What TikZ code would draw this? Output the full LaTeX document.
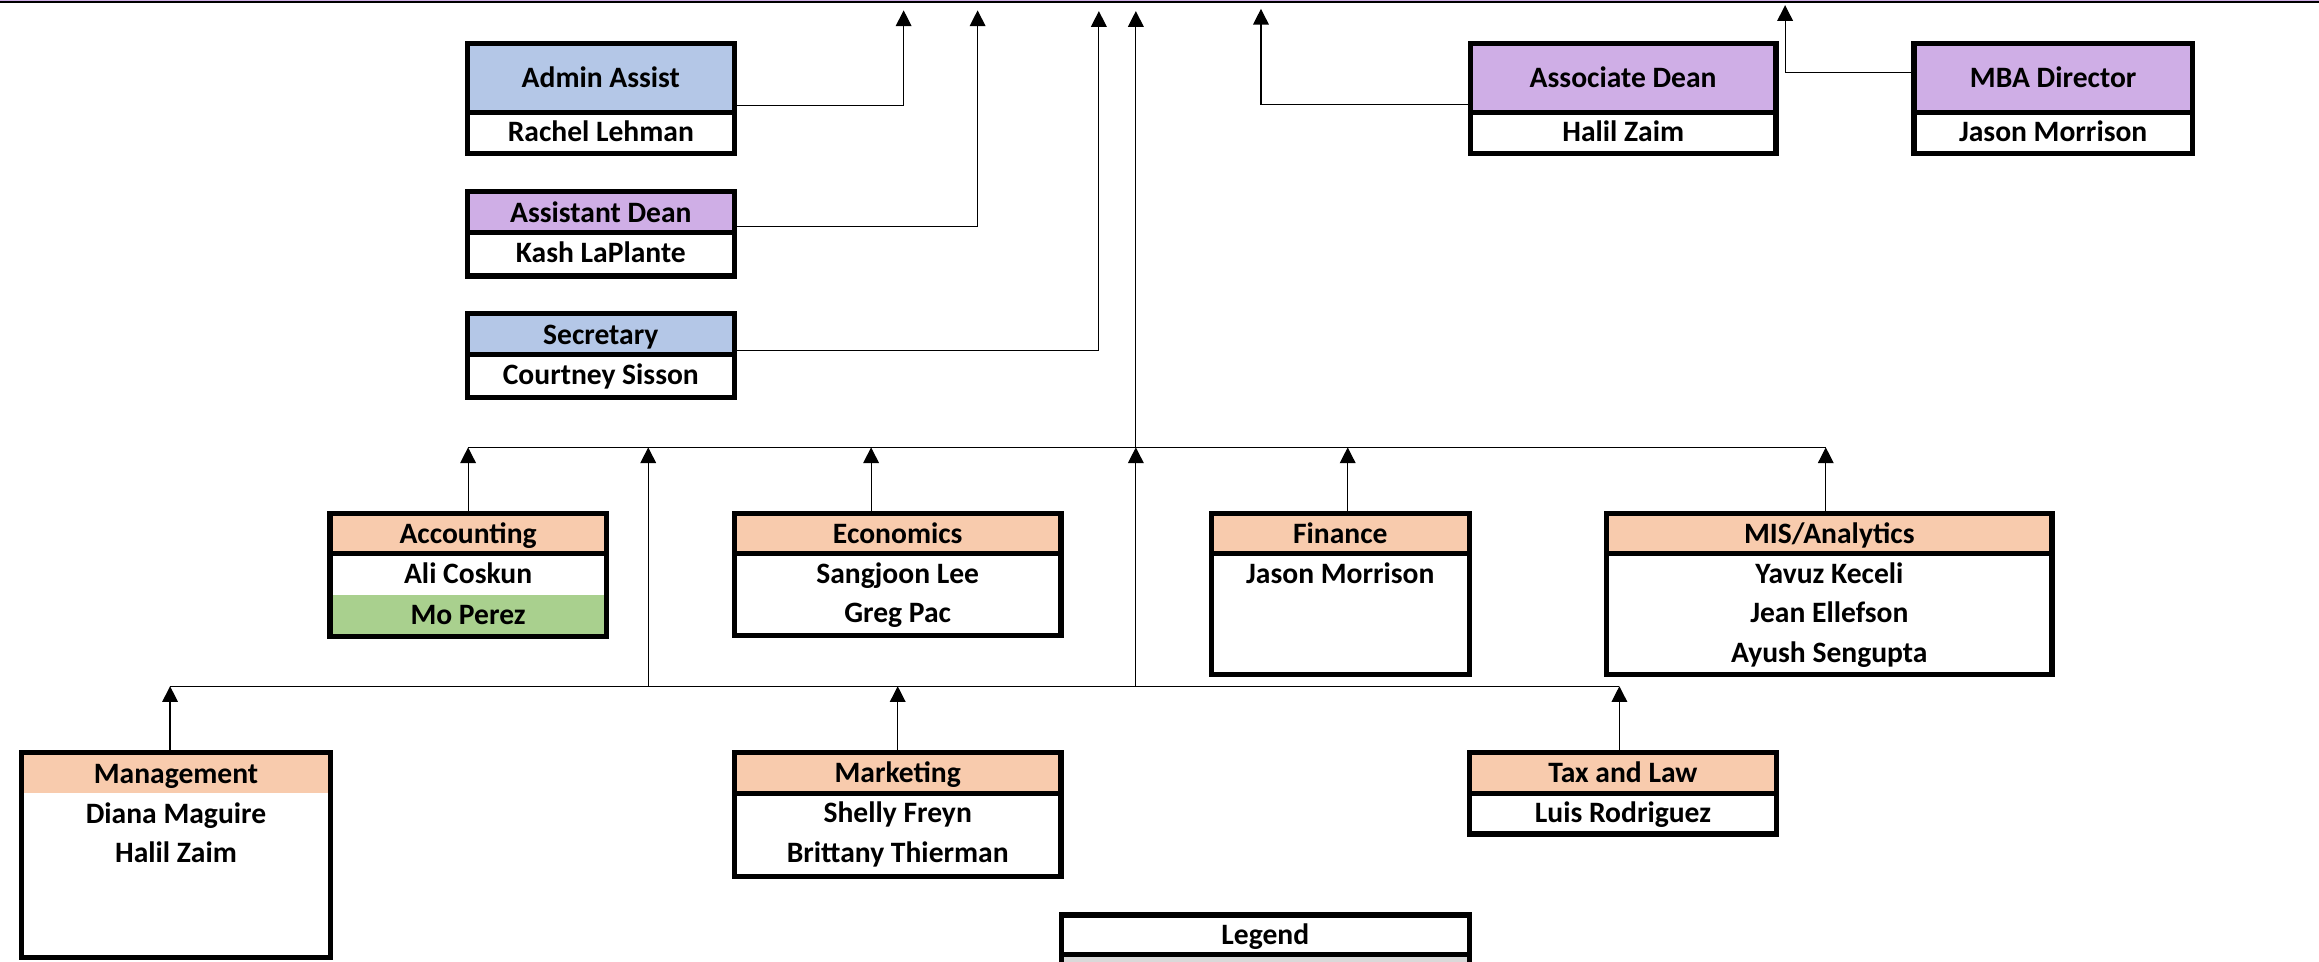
\documentclass[tikz,border=0pt]{standalone}
\usepackage{fontspec}
\setmainfont{Carlito}
\usepackage{xcolor}
\usepackage{tikz}
\usetikzlibrary{arrows.meta,positioning}
\definecolor{HeadPeach}{HTML}{F8CBAD}
\definecolor{StaffBlue}{HTML}{B4C7E7}
\definecolor{DeanPurple}{HTML}{CFAEE6}
\definecolor{NewGreen}{HTML}{A9D08E}
\definecolor{LegendGray}{HTML}{D9D9D9}

\begin{document}
\begin{tikzpicture}[
  x=0.5pt, y=-0.5pt,
  font=\bfseries\fontsize{10}{13.35}\selectfont,
  head/.style={inner sep=0pt, text height=8pt, text depth=1.4pt, align=center},
  names/.style={anchor=north, inner sep=0pt, fill=white, align=flush center, text height=9.8pt},
  frame/.style={draw=black, line width=1.8pt},
  link/.style={-{Triangle[length=5.3pt, width=5.3pt]}, line width=0.4pt},
  bus/.style={line width=0.4pt}
]
\path[use as bounding box] (0,0) rectangle (1568,650);
\clip (0,0) rectangle (1568,650);

% dean box, only its lower edge is in view
\node[fill=DeanPurple, draw=black, line width=0.7pt, minimum width=800pt, minimum height=40pt, anchor=south] (dean) at (784,2.1) {};

% staff
\node[head, fill=StaffBlue, minimum width=89.75pt, minimum height=22.75pt] (admin) at (406.25,52.75) {Admin Assist};
\node[names, text width=89.75pt, text depth=3.7pt, below=0pt of admin] (admin-names) {Rachel Lehman};
\node[head, fill=DeanPurple, minimum width=89.75pt, minimum height=13.5pt] (asstdean) at (406.25,143.5) {Assistant Dean};
\node[names, text width=89.75pt, text depth=4.45pt, below=0pt of asstdean] (asstdean-names) {Kash LaPlante};
\node[head, fill=StaffBlue, minimum width=89.75pt, minimum height=13.5pt] (secretary) at (406.25,226) {Secretary};
\node[names, text width=89.75pt, text depth=4.2pt, below=0pt of secretary] (secretary-names) {Courtney Sisson};
\node[head, fill=DeanPurple, minimum width=103pt, minimum height=22.75pt] (assocdean) at (1097.5,52.75) {Associate Dean};
\node[names, text width=103pt, text depth=3.7pt, below=0pt of assocdean] (assocdean-names) {Halil Zaim};
\node[head, fill=DeanPurple, minimum width=93.75pt, minimum height=22.75pt] (mba) at (1388.25,52.75) {MBA Director};
\node[names, text width=93.75pt, text depth=3.7pt, below=0pt of mba] (mba-names) {Jason Morrison};

% departments
\node[head, fill=HeadPeach, minimum width=93pt, minimum height=13.15pt] (acct) at (316.5,360.85) {Accounting};
\node[names, text width=93pt, text depth=3.7pt, below=0pt of acct] (acct-names) {Ali Coskun};
\node[names, fill=NewGreen, text width=93pt, text depth=3.95pt, below=0pt of acct-names] (acct-new) {Mo Perez};
\node[head, fill=HeadPeach, minimum width=110pt, minimum height=13.15pt] (econ) at (607,360.85) {Economics};
\node[names, text width=110pt, text depth=17.45pt, below=0pt of econ] (econ-names) {Sangjoon Lee\\Greg Pac};
\node[head, fill=HeadPeach, minimum width=86.75pt, minimum height=13.15pt] (fin) at (906.25,360.85) {Finance};
\node[names, text width=86.75pt, text depth=30.55pt, below=0pt of fin] (fin-names) {Jason Morrison};
\node[head, fill=HeadPeach, minimum width=150.1pt, minimum height=13.15pt] (mis) at (1236.9,360.85) {MIS/Analytics};
\node[names, text width=150.1pt, text depth=30.55pt, below=0pt of mis] (mis-names) {Yavuz Keceli\\Jean Ellefson\\Ayush Sengupta};
\node[head, fill=HeadPeach, minimum width=104pt, minimum height=13.5pt] (mgmt) at (119,522.9) {Management};
\node[names, text width=104pt, text depth=45pt, below=0pt of mgmt] (mgmt-names) {Diana Maguire\\Halil Zaim};
\node[head, fill=HeadPeach, minimum width=110pt, minimum height=13.3pt] (mkt) at (607,522.7) {Marketing};
\node[names, text width=110pt, text depth=17.9pt, below=0pt of mkt] (mkt-names) {Shelly Freyn\\Brittany Thierman};
\node[head, fill=HeadPeach, minimum width=103.35pt, minimum height=13.3pt] (tax) at (1097.35,522.7) {Tax and Law};
\node[names, text width=103.35pt, text depth=3.55pt, below=0pt of tax] (tax-names) {Luis Rodriguez};
\node[head, fill=white, minimum width=137.5pt, minimum height=13pt] (legend) at (855.5,632) {Legend};
\node[names, fill=LegendGray, text width=137.5pt, text depth=20pt, below=0pt of legend] (legend-items) {};

% frames
\draw[frame] (admin.north west) rectangle (admin-names.south east) (admin.south west) -- (admin.south east);
\draw[frame] (asstdean.north west) rectangle (asstdean-names.south east) (asstdean.south west) -- (asstdean.south east);
\draw[frame] (secretary.north west) rectangle (secretary-names.south east) (secretary.south west) -- (secretary.south east);
\draw[frame] (assocdean.north west) rectangle (assocdean-names.south east) (assocdean.south west) -- (assocdean.south east);
\draw[frame] (mba.north west) rectangle (mba-names.south east) (mba.south west) -- (mba.south east);
\draw[frame] (acct.north west) rectangle (acct-new.south east) (acct.south west) -- (acct.south east);
\draw[frame] (econ.north west) rectangle (econ-names.south east) (econ.south west) -- (econ.south east);
\draw[frame] (fin.north west) rectangle (fin-names.south east) (fin.south west) -- (fin.south east);
\draw[frame] (mis.north west) rectangle (mis-names.south east) (mis.south west) -- (mis.south east);
\draw[frame] (mgmt.north west) rectangle (mgmt-names.south east);
\draw[frame] (mkt.north west) rectangle (mkt-names.south east) (mkt.south west) -- (mkt.south east);
\draw[frame] (tax.north west) rectangle (tax-names.south east) (tax.south west) -- (tax.south east);
\draw[frame] (legend.north west) rectangle (legend-items.south east) (legend.south west) -- (legend.south east);

% where the lines meet the dean box and the two buses
\coordinate (dean-a) at (611,7);
\coordinate (dean-b) at (661,7);
\coordinate (dean-c) at (743,7.5);
\coordinate (dean-d) at (768,7.5);
\coordinate (dean-e) at (852.6,6);
\coordinate (dean-f) at (1207,3.5);
\coordinate (upper) at (768,302.5);
\coordinate (lower) at (768,464);
\coordinate (lower-l) at (438.3,464);
\coordinate (econ-up) at ([xshift=-9pt]econ.north);
\coordinate (fin-up) at ([xshift=2.5pt]fin.north);
\coordinate (mis-up) at ([xshift=-1.2pt]mis.north);
\coordinate (mgmt-up) at ([xshift=-2pt]mgmt.north);
\coordinate (tax-up) at ([xshift=-1.2pt]tax.north);

\draw[link] ([yshift=2.25pt]admin.south east) -| (dean-a);
\draw[link] ([yshift=2pt]asstdean.south east) -| (dean-b);
\draw[link] ([yshift=1.4pt]secretary.south east) -| (dean-c);
\draw[link] ([yshift=2.75pt]assocdean.south west) -| (dean-e);
\draw[link] ([yshift=1.9pt]mba.west) -| (dean-f);
\draw[link] (upper) -- (dean-d);

\draw[bus] (acct.north |- upper) -- (mis-up |- upper);
\draw[link] (acct) -- (acct |- upper);
\draw[link] (econ-up) -- (econ-up |- upper);
\draw[link] (fin-up) -- (fin-up |- upper);
\draw[link] (mis-up) -- (mis-up |- upper);
\draw[link] (lower-l) -- (lower-l |- upper);
\draw[link] (lower) -- (upper);

\draw[bus] (mgmt-up |- lower) -- (tax-up |- lower);
\draw[link] (mgmt-up) -- (mgmt-up |- lower);
\draw[link] (mkt) -- (mkt |- lower);
\draw[link] (tax-up) -- (tax-up |- lower);
\end{tikzpicture}
\end{document}
